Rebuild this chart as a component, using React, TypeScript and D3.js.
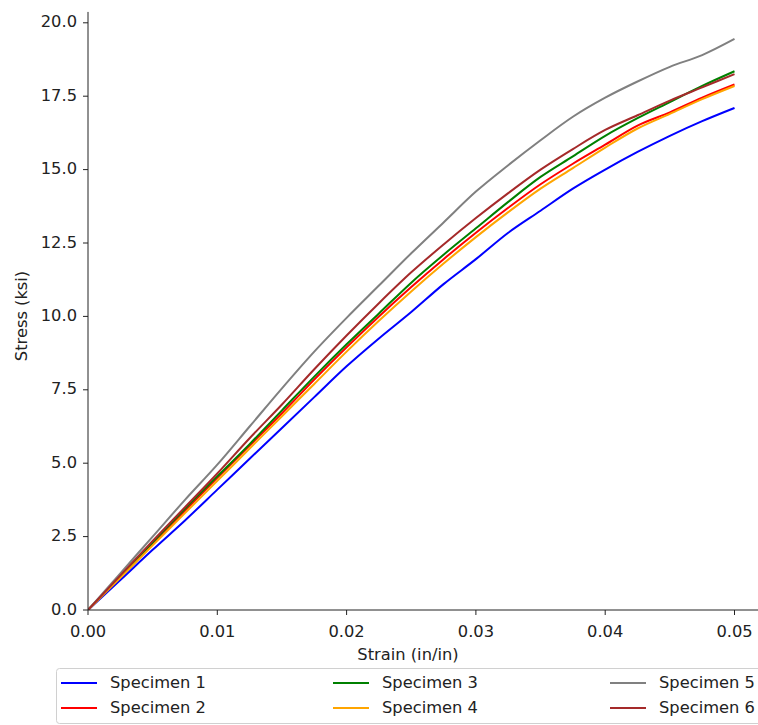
import React from "react";
import * as d3 from "d3";

const strain = [
  0, 0.0025, 0.005, 0.0075, 0.01, 0.0125, 0.015, 0.0175, 0.02, 0.0225, 0.025,
  0.0275, 0.03, 0.0325, 0.035, 0.0375, 0.04, 0.0425, 0.045, 0.0475, 0.05,
];

const specimen1 = [0, 1.02, 2.05, 3.05, 4.1, 5.15, 6.2, 7.25, 8.3, 9.25, 10.15, 11.1, 11.95, 12.85, 13.6, 14.35, 15.0, 15.6, 16.15, 16.65, 17.1];
const specimen2 = [0, 1.13, 2.25, 3.38, 4.5, 5.6, 6.7, 7.85, 8.95, 10.0, 11.0, 11.95, 12.85, 13.7, 14.5, 15.2, 15.85, 16.5, 16.95, 17.45, 17.9];
const specimen3 = [0, 1.15, 2.3, 3.45, 4.55, 5.65, 6.8, 7.95, 9.05, 10.1, 11.15, 12.1, 13.0, 13.9, 14.75, 15.45, 16.15, 16.75, 17.3, 17.85, 18.35];
const specimen4 = [0, 1.1, 2.2, 3.3, 4.4, 5.5, 6.6, 7.7, 8.8, 9.85, 10.85, 11.8, 12.7, 13.55, 14.35, 15.05, 15.75, 16.4, 16.9, 17.4, 17.85];
const specimen5 = [0, 1.25, 2.5, 3.75, 4.95, 6.25, 7.55, 8.8, 9.95, 11.05, 12.15, 13.2, 14.25, 15.15, 16.0, 16.8, 17.45, 18.0, 18.5, 18.9, 19.45];
const specimen6 = [0, 1.18, 2.35, 3.5, 4.65, 5.85, 7.0, 8.2, 9.35, 10.45, 11.5, 12.45, 13.35, 14.2, 15.0, 15.7, 16.35, 16.85, 17.35, 17.8, 18.25];

const names = ["Specimen 1", "Specimen 2", "Specimen 3", "Specimen 4", "Specimen 5", "Specimen 6"];
const colors = ["#0000ff", "#ff0000", "#008000", "#ffa500", "#808080", "#a52a2a"];
const values = [specimen1, specimen2, specimen3, specimen4, specimen5, specimen6];

const xTicks = [0, 0.01, 0.02, 0.03, 0.04, 0.05];
const yTicks = [0, 2.5, 5, 7.5, 10, 12.5, 15, 17.5, 20];

const W = 758;
const H = 725;
const font = "DejaVu Sans, sans-serif";
const fs = 16.3;

export default function App() {
  // plot region
  const left = 88;
  const bottom = 610;
  const x = d3.scaleLinear().domain([0, 0.0525]).range([left, left + 0.0525 * 12930]);
  const y = d3.scaleLinear().domain([0, 20.37]).range([bottom, bottom - 20.37 * 29.36]);

  const line = d3
    .line<[number, number]>()
    .x((d) => x(d[0]))
    .y((d) => y(d[1]))
    .curve(d3.curveMonotoneX);

  const series = values.map((v, i) => ({
    name: names[i],
    color: colors[i],
    points: strain.map((s, j) => [s, v[j]] as [number, number]),
  }));

  const legendCols = [110, 382, 659];
  const legendRows = [683, 708];

  return (
    <svg
      width={W}
      height={H}
      style={{ position: "absolute", left: 0, top: 0, background: "#fff" }}
      fontFamily={font}
    >
      <defs>
        <clipPath id="plot">
          <rect x={left} y={y(20.37)} width={W - left} height={bottom - y(20.37)} />
        </clipPath>
      </defs>

      <g clipPath="url(#plot)">
        {series.map((s) => (
          <path
            key={s.name}
            d={line(s.points) || ""}
            fill="none"
            stroke={s.color}
            strokeWidth={2}
            strokeLinejoin="round"
          />
        ))}
      </g>

      {/* axes */}
      <line x1={left} x2={left} y1={bottom} y2={y(20.37)} stroke="#222" strokeWidth={1} />
      <line x1={left} x2={W} y1={bottom} y2={bottom} stroke="#222" strokeWidth={1} />

      {xTicks.map((t) => (
        <g key={"x" + t} transform={`translate(${x(t)},${bottom})`}>
          <line y2={5} stroke="#222" />
          <text y={22} textAnchor="middle" dominantBaseline="middle" fontSize={fs} fill="#222">
            {d3.format(".2f")(t)}
          </text>
        </g>
      ))}
      {yTicks.map((t) => (
        <g key={"y" + t} transform={`translate(${left},${y(t)})`}>
          <line x2={-5} stroke="#222" />
          <text x={-11} textAnchor="end" dominantBaseline="middle" fontSize={fs} fill="#222">
            {d3.format(".1f")(t)}
          </text>
        </g>
      ))}

      <text x={408} y={655} textAnchor="middle" dominantBaseline="middle" fontSize={fs} fill="#222">
        Strain (in/in)
      </text>
      <text
        transform={`translate(22,316) rotate(-90)`}
        textAnchor="middle"
        dominantBaseline="middle"
        fontSize={fs}
        fill="#222"
      >
        Stress (ksi)
      </text>

      {/* legend */}
      <rect x={56.5} y={668.5} width={W} height={55} rx={3} fill="#fff" stroke="#d0d0d0" />
      {series.map((s, i) => {
        const cx = legendCols[Math.floor(i / 2)];
        const cy = legendRows[i % 2];
        return (
          <g key={"l" + s.name}>
            <line x1={cx - 49} x2={cx - 13} y1={cy} y2={cy} stroke={s.color} strokeWidth={2} />
            <text x={cx} y={cy} dominantBaseline="middle" fontSize={fs} fill="#222">
              {s.name}
            </text>
          </g>
        );
      })}
    </svg>
  );
}
